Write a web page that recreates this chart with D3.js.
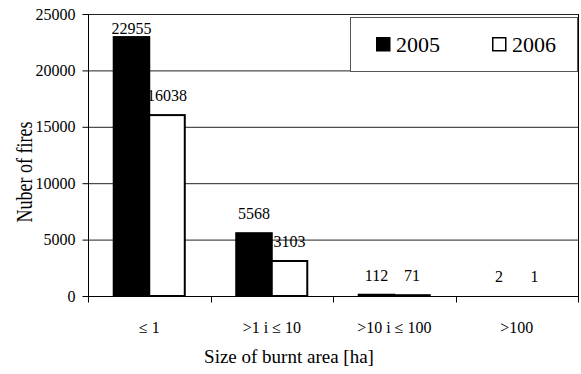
<!DOCTYPE html>
<html><head><meta charset="utf-8">
<script src="https://cdn.jsdelivr.net/npm/d3@7"></script>
</head>
<body style="margin:0;padding:0;background:#fff">
<svg id="chart" width="581" height="374" style="display:block" font-family="Liberation Serif"></svg>
<script>
const categories = ["\u2264 1", ">1 i \u2264 10", ">10 i \u2264 100", ">100"];
const years = ["2005", "2006"];
const values2005 = [22955, 5568, 112, 2];
const values2006 = [16038, 3103, 71, 1];
const yTicks = [0, 5000, 10000, 15000, 20000, 25000];

const FONT = "Liberation Serif";
const svg = d3.select("#chart");
const plot = {left: 88, right: 578, top: 14, bottom: 296};
const fills = {"2005": "#000", "2006": "#fff"};

const x = d3.scaleBand().domain(categories).range([plot.left, plot.right])
  .paddingInner(0.42).paddingOuter(0.21);
const xs = d3.scaleBand().domain(years).range([0, x.bandwidth()]);
const y = d3.scaleLinear().domain([0, 25000]).range([plot.bottom, plot.top]);

// gridlines
svg.append("g").selectAll("line").data(yTicks.filter(d => d > 0)).join("line")
  .attr("x1", plot.left).attr("x2", plot.right)
  .attr("y1", d => y(d) + 0.5).attr("y2", d => y(d) + 0.5)
  .attr("stroke", "#222").attr("stroke-width", 1);

// right border
svg.append("line").attr("x1", plot.right + 0.5).attr("x2", plot.right + 0.5)
  .attr("y1", plot.top).attr("y2", plot.bottom).attr("stroke", "#000");

// y axis
const yAxis = svg.append("g").attr("transform", `translate(${plot.left + 0.5},0)`)
  .call(d3.axisLeft(y).tickValues(yTicks).tickSize(6).tickPadding(7).tickFormat(d3.format("d")));
yAxis.attr("font-family", FONT);
yAxis.selectAll("text").attr("font-family", FONT).attr("font-size", 16).attr("fill", "#000");
yAxis.selectAll("line,path").attr("stroke", "#000");
yAxis.select(".domain").attr("d", `M0,${plot.top}V${plot.bottom}`);

// x axis
const xAxis = svg.append("g").attr("transform", `translate(0,${plot.bottom + 0.5})`)
  .call(d3.axisBottom(x).tickSize(0).tickPadding(25));
xAxis.attr("font-family", FONT);
xAxis.selectAll("text").attr("font-family", FONT).attr("font-size", 16).attr("fill", "#000");
xAxis.select(".domain").attr("d", `M${plot.left},0H${plot.right + 1}`).attr("stroke", "#000");
const bounds = categories.map(c => x(c) - x.step() * x.paddingInner() / 2).concat([plot.right]);
xAxis.append("g").selectAll("line").data(bounds).join("line")
  .attr("x1", d => Math.round(d) + 0.5).attr("x2", d => Math.round(d) + 0.5)
  .attr("y1", 0).attr("y2", 6).attr("stroke", "#000");

// bars
const rows = [];
categories.forEach((c, i) => {
  rows.push({cat: c, year: "2005", v: values2005[i]});
  rows.push({cat: c, year: "2006", v: values2006[i]});
});
svg.append("g").selectAll("rect").data(rows).join("rect")
  .attr("x", d => x(d.cat) + xs(d.year))
  .attr("width", xs.bandwidth())
  .attr("y", d => y(d.v))
  .attr("height", d => y(0) - y(d.v))
  .attr("fill", d => fills[d.year])
  .attr("stroke", d => (y(0) - y(d.v)) < 0.2 ? "none" : "#000")
  .attr("stroke-width", 2);

// labels
svg.append("g").selectAll("text").data(rows).join("text")
  .attr("x", d => x(d.cat) + xs(d.year) + xs.bandwidth() / 2)
  .attr("y", d => {
    const t = y(d.v);
    return (t - 14 < plot.top + 18) ? t - 3 : t - 14;
  })
  .attr("text-anchor", "middle").attr("font-family", FONT).attr("font-size", 16).attr("fill", "#000")
  .text(d => d.v);

// axis titles
svg.append("text").attr("x", 289).attr("y", 363).attr("text-anchor", "middle")
  .attr("font-family", FONT).attr("font-size", 19).text("Size of burnt area [ha]");
svg.append("text").attr("transform", "translate(32,172) rotate(-90) scale(1,1.3)")
  .attr("text-anchor", "middle").attr("font-family", FONT).attr("font-size", 18).text("Nuber of fires");

// legend
const lg = svg.append("g");
lg.append("rect").attr("x", 350.5).attr("y", 17.5).attr("width", 227).attr("height", 54)
  .attr("fill", "#fff").attr("stroke", "#555").attr("stroke-width", 1);
const lx = [376, 492];
years.forEach((yr, i) => {
  lg.append("rect").attr("x", lx[i] + 0.75).attr("y", 37.75).attr("width", 13).attr("height", 13)
    .attr("fill", fills[yr]).attr("stroke", "#000").attr("stroke-width", 1.5);
  lg.append("text").attr("x", lx[i] + 20).attr("y", 52).attr("font-family", FONT).attr("font-size", 22).text(yr);
});
</script>
</body></html>
